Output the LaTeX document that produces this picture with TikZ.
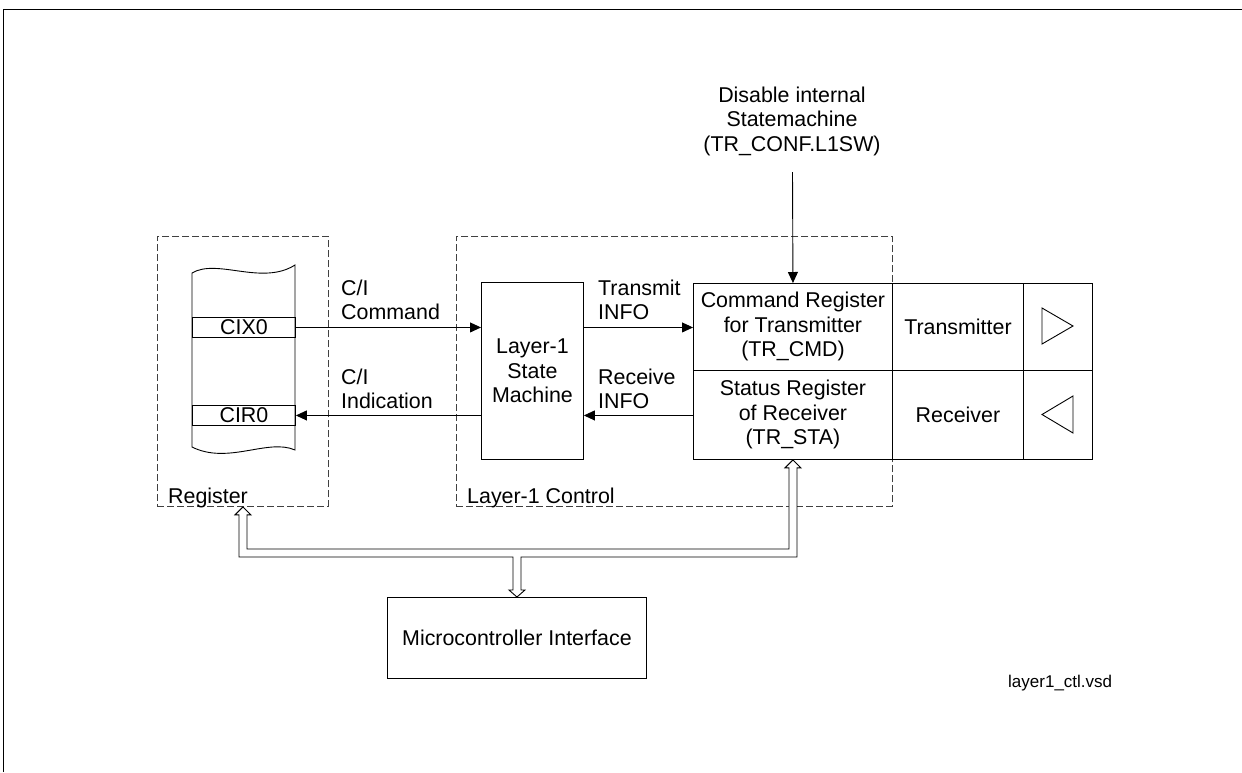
\documentclass[tikz,border=0pt]{standalone}
\usepackage{fontspec}
\setmainfont{Liberation Sans}
\usetikzlibrary{arrows.meta,calc}
\newcommand\mainsz{\fontsize{21.4}{24.5}\selectfont}
\newcommand\smallsz{\fontsize{17}{19}\selectfont}
\tikzset{
  box/.style={draw, line width=0.9pt, inner sep=0pt, align=center, font=\mainsz, anchor=north west},
  grp/.style={draw=black!75, line width=0.9pt, dash pattern=on 7pt off 3pt, inner sep=0pt, anchor=north west},
  lbl/.style={inner sep=0pt, align=left, font=\mainsz},
  ctr/.style={inner sep=0pt, align=center, font=\mainsz},
  arr/.style={line width=0.9pt, -{Triangle[length=11pt,width=10pt]}},
  bus/.style={line width=0.9pt, fill=white, line join=miter},
  thin/.style={line width=0.9pt}
}
\begin{document}
\begin{tikzpicture}[x=1pt,y=-1pt]
\useasboundingbox (0,0) rectangle (1242,772);
% outer frame
\draw[thin] (3,772) -- (3,9) -- (1242,9);

% groups
\node[grp, minimum width=171pt, minimum height=270pt] (reg) at (157,236) {};
\node[grp, minimum width=436pt, minimum height=270pt] (l1) at (456,236) {};
\node[inner sep=0pt, font=\mainsz, anchor=base west] (reglbl) at (168,503) {Register};
\node[inner sep=0pt, font=\mainsz, anchor=base west] (l1lbl) at (467,503) {Layer-1 Control};

% register drum
\draw[thin] (192,273) .. controls (217,258) and (262,286) .. (295,265)
  -- (295,450) .. controls (268,438) and (228,465) .. (192,447) -- cycle;
\node[box, minimum width=103pt, minimum height=20pt] (cix) at (192,317) {CIX0};
\node[box, minimum width=103pt, minimum height=20pt] (cir) at (192,405) {CIR0};

% state machine
\node[box, minimum width=102pt, minimum height=177pt] (sm) at (481,282) {Layer-1\\State\\Machine};

% register block
\node[box, minimum width=199pt, minimum height=87pt] (cmd) at (693,283) {Command Register\\for Transmitter\\(TR\_CMD)};
\node[box, minimum width=199pt, minimum height=89pt] (sta) at (693,370) {Status Register\\of Receiver\\(TR\_STA)};
\node[box, minimum width=131pt, minimum height=87pt] (tx) at (892,283) {Transmitter};
\node[box, minimum width=131pt, minimum height=89pt] (rx) at (892,370) {Receiver};
\node[box, minimum width=69pt, minimum height=87pt] (txs) at (1023,283) {};
\node[box, minimum width=69pt, minimum height=89pt] (rxs) at (1023,370) {};
\draw[thin, line join=miter] (1042,308) -- (1073,326) -- (1042,344) -- cycle;
\draw[thin, line join=miter] (1073,396) -- (1042,414.5) -- (1073,433) -- cycle;

% microcontroller interface
\node[box, minimum width=259pt, minimum height=81pt] (mcu) at (387,597) {Microcontroller Interface};

% connectors
\draw[arr] (cix.east) -- (sm.west |- cix.east);
\draw[arr] (sm.west |- cir.east) -- (cir.east);
\draw[arr] (sm.east |- cix.east) -- (cmd.west |- cix.east);
\draw[arr] (sta.west |- cir.east) -- (sm.east |- cir.east);

\node[lbl, anchor=west] (cicmd) at (341,300) {C/I\\Command};
\node[lbl, anchor=west] (ciind) at (341,389) {C/I\\Indication};
\node[lbl, anchor=west] (txinfo) at (598,300) {Transmit\\INFO};
\node[lbl, anchor=west] (rxinfo) at (598,389) {Receive\\INFO};

\node[ctr] (dis) at (792,121) {Disable internal\\Statemachine\\(TR\_CONF.L1SW)};
\coordinate (disA) at (792.5,172);
\draw[arr] (disA) -- (cmd.north);

% bus
\coordinate (L) at (reg.south);
\coordinate (R) at (sta.south);
\coordinate (M) at (mcu.north);
\coordinate (hy) at (0,549);
\coordinate (hy2) at (0,557);
\draw[bus] ($(L)+(-4,8)$) -- ($(L)+(-8,8)$) -- (L) -- ($(L)+(8,8)$) -- ($(L)+(4,8)$)
  -- ($(L|-hy)+(4,0)$) -- ($(R|-hy)+(-4,0)$) -- ($(R)+(-4,8)$) -- ($(R)+(-8,8)$)
  -- (R) -- ($(R)+(8,8)$) -- ($(R)+(4,8)$) -- ($(R|-hy2)+(4,0)$)
  -- ($(M|-hy2)+(4,0)$) -- ($(M)+(4,-7)$) -- ($(M)+(8,-7)$) -- (M)
  -- ($(M)+(-8,-7)$) -- ($(M)+(-4,-7)$) -- ($(M|-hy2)+(-4,0)$)
  -- ($(L|-hy2)+(-4,0)$) -- cycle;

\node[inner sep=0pt, font=\smallsz, anchor=west] (fname) at (1008,683) {layer1\_ctl.vsd};
\end{tikzpicture}
\end{document}
